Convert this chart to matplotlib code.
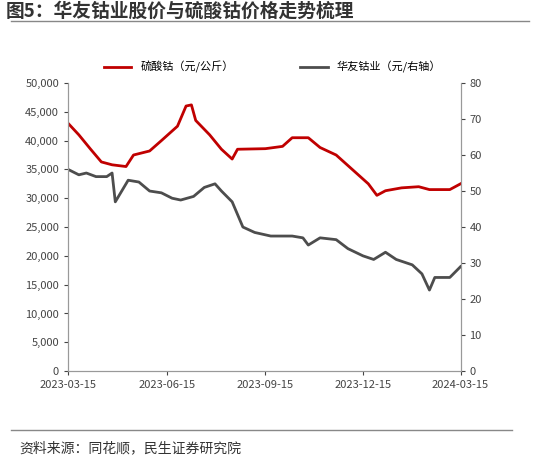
import numpy as np
import pandas as pd
import matplotlib.pyplot as plt
import matplotlib.dates as mdates

plt.rcParams['font.family'] = ['Noto Sans CJK SC', 'DejaVu Sans']

# cobalt sulfate price (left axis)
cs_dates = ['2023-03-15', '2023-03-25', '2023-04-05', '2023-04-15', '2023-04-25', '2023-05-08',
            '2023-05-15', '2023-05-30', '2023-06-10', '2023-06-25', '2023-07-03', '2023-07-08',
            '2023-07-12', '2023-07-25', '2023-08-05', '2023-08-15', '2023-08-20', '2023-09-15',
            '2023-10-01', '2023-10-10', '2023-10-25', '2023-11-05', '2023-11-20', '2023-12-05',
            '2023-12-20', '2023-12-28', '2024-01-05', '2024-01-20', '2024-02-05', '2024-02-15',
            '2024-03-05', '2024-03-15']
cs_vals = [43000, 41000, 38500, 36300, 35800, 35500, 37500, 38200, 40000, 42500, 46000, 46200,
           43500, 41000, 38500, 36800, 38500, 38600, 39000, 40500, 40500, 38800, 37500, 35000,
           32500, 30500, 31300, 31800, 32000, 31500, 31500, 32500]

# Huayou Cobalt share price (right axis)
hy_dates = ['2023-03-15', '2023-03-25', '2023-04-01', '2023-04-10', '2023-04-20', '2023-04-25',
            '2023-04-28', '2023-05-10', '2023-05-20', '2023-05-30', '2023-06-10', '2023-06-20',
            '2023-06-28', '2023-07-10', '2023-07-20', '2023-07-30', '2023-08-05', '2023-08-15',
            '2023-08-25', '2023-09-05', '2023-09-20', '2023-10-10', '2023-10-20', '2023-10-25',
            '2023-11-05', '2023-11-20', '2023-12-01', '2023-12-15', '2023-12-25', '2024-01-05',
            '2024-01-15', '2024-01-30', '2024-02-08', '2024-02-15', '2024-02-20', '2024-03-05',
            '2024-03-15']
hy_vals = [56, 54.5, 55, 54, 54, 55, 47, 53, 52.5, 50, 49.5, 48, 47.5, 48.5, 51, 52, 50, 47,
           40, 38.5, 37.5, 37.5, 37, 35, 37, 36.5, 34, 32, 31, 33, 31, 29.5, 27, 22.5, 26, 26, 29]

fig = plt.figure(figsize=(5.45, 4.61), dpi=100)
fig.text(0.01, 0.975, '图5：华友钴业股价与硫酸钴价格走势梳理', fontsize=13.5, fontweight='bold',
         va='center', color='#333333')
fig.add_artist(plt.Line2D([0.02, 0.97], [0.955, 0.955], color='#888888', lw=1))
fig.add_artist(plt.Line2D([0.02, 0.94], [0.068, 0.068], color='#888888', lw=1))
fig.text(0.035, 0.02, '资料来源：同花顺，民生证券研究院', fontsize=10, color='#333333')

ax = fig.add_axes([0.125, 0.195, 0.72, 0.625])
ax2 = ax.twinx()
l1, = ax.plot(pd.to_datetime(cs_dates), cs_vals, color='#c00000', lw=2, label='硫酸钴（元/公斤）')
l2, = ax2.plot(pd.to_datetime(hy_dates), hy_vals, color='#4d4d4d', lw=2, label='华友钴业（元/右轴）')
ax.set_ylim(0, 50000)
ax.set_yticks(np.arange(0, 50001, 5000))
ax.yaxis.set_major_formatter(plt.FuncFormatter(lambda v, p: f'{int(v):,}'))
ax2.set_ylim(0, 80)
ax2.set_yticks(np.arange(0, 81, 10))
ticks = pd.to_datetime(['2023-03-15', '2023-06-15', '2023-09-15', '2023-12-15', '2024-03-15'])
ax.set_xticks(ticks)
ax.xaxis.set_major_formatter(mdates.DateFormatter('%Y-%m-%d'))
ax.set_xlim(ticks[0], ticks[-1])
for a in (ax, ax2):
    a.spines['top'].set_visible(False)
    a.spines['left'].set_color('#999999')
    a.spines['right'].set_color('#999999')
    a.spines['bottom'].set_color('#999999')
    a.tick_params(labelsize=8, colors='#444444', length=3)
fig.legend(handles=[l1, l2], loc='center', bbox_to_anchor=(0.5, 0.855), ncol=2, frameon=False,
           fontsize=8, columnspacing=6, handlelength=2.5)
fig.savefig('out.png', dpi=100)
